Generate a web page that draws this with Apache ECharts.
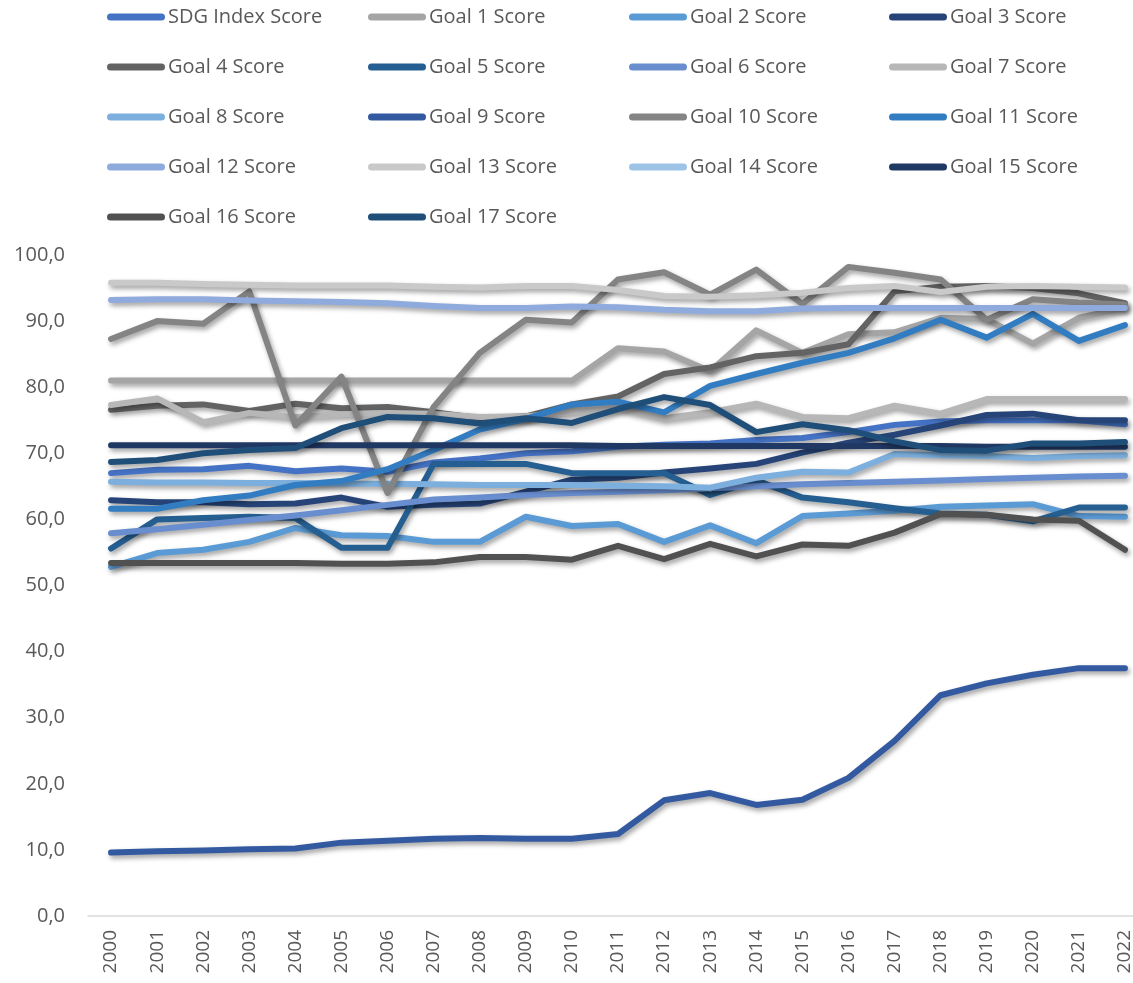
<!DOCTYPE html>
<html>
<head>
<meta charset="utf-8">
<title>SDG Scores 2000–2022</title>
<script src="https://cdn.jsdelivr.net/npm/echarts@6/dist/echarts.min.js"></script>
<style>
  html, body { margin: 0; padding: 0; background: #ffffff; overflow: hidden; }
  /* the drawing surface is a little wider than the page; the plot area runs past the right edge */
  #chart { width: 1148px; height: 983px; }
</style>
</head>
<body>
<div id="chart"></div>
<script>
// Years on the category axis
const years = ['2000','2001','2002','2003','2004','2005','2006','2007','2008','2009','2010',
               '2011','2012','2013','2014','2015','2016','2017','2018','2019','2020','2021','2022'];

// Scores per year (0–100)
const sdgIndex = [67.0,67.5,67.6,68.1,67.3,67.7,67.2,68.6,69.2,70.0,70.3,71.0,71.3,71.5,72.0,72.3,73.2,74.3,74.8,75.0,75.0,75.0,74.4];
const goal1  = [81.0,81.0,81.0,81.0,81.0,81.0,81.0,81.0,81.0,81.0,81.0,85.9,85.4,82.4,88.6,85.2,88.0,88.3,90.5,90.3,86.6,90.5,92.0];
const goal2  = [52.8,54.9,55.4,56.6,58.7,57.6,57.5,56.6,56.6,60.4,59.0,59.3,56.6,59.1,56.4,60.5,60.9,61.3,61.9,62.1,62.3,60.5,60.4];
const goal3  = [62.9,62.6,62.6,62.3,62.4,63.3,61.9,62.2,62.4,64.2,66.0,66.3,67.1,67.7,68.4,70.1,71.6,72.8,74.2,75.8,76.0,75.0,75.0];
const goal4  = [76.6,77.2,77.4,76.4,77.5,76.8,77.0,76.2,75.3,75.6,77.4,78.6,82.0,83.0,84.7,85.2,86.5,94.5,95.2,95.3,95.0,94.2,92.7];
const goal5  = [55.6,60.0,60.2,60.4,60.2,55.7,55.7,68.4,68.4,68.4,67.0,67.0,67.0,63.7,65.9,63.3,62.6,61.7,60.9,60.7,59.7,61.8,61.8];
const goal6  = [57.9,58.5,59.2,59.9,60.6,61.4,62.2,63.0,63.3,63.7,64.0,64.2,64.4,64.7,65.0,65.3,65.5,65.7,65.9,66.1,66.3,66.5,66.6];
const goal7  = [77.3,78.3,74.7,76.1,75.5,75.9,76.1,76.0,75.5,75.6,76.2,76.9,75.3,76.2,77.5,75.5,75.3,77.2,76.0,78.2,78.2,78.2,78.2];
const goal8  = [65.7,65.6,65.6,65.5,65.5,65.4,65.4,65.3,65.2,65.2,65.2,65.1,65.0,64.8,66.3,67.2,67.1,69.9,69.7,69.6,69.3,69.6,69.7];
const goal9  = [9.6,9.8,9.9,10.1,10.2,11.1,11.4,11.7,11.8,11.7,11.7,12.4,17.5,18.6,16.8,17.6,20.9,26.5,33.4,35.2,36.5,37.5,37.5];
const goal10 = [87.3,90.0,89.6,94.5,74.2,81.6,64.0,77.0,85.2,90.2,89.8,96.3,97.4,94.0,97.8,92.6,98.2,97.3,96.3,90.2,93.3,92.8,92.5];
const goal11 = [61.6,61.6,62.9,63.6,65.2,65.8,67.6,70.5,73.6,75.2,77.4,77.8,76.2,80.2,82.0,83.7,85.2,87.4,90.2,87.5,91.1,87.0,89.4];
const goal12 = [93.2,93.3,93.3,93.1,93.0,92.9,92.7,92.3,92.0,92.0,92.2,92.1,91.7,91.5,91.5,91.9,92.0,92.0,92.0,92.0,92.0,92.0,92.0];
const goal13 = [95.8,95.8,95.6,95.5,95.4,95.4,95.4,95.2,95.1,95.3,95.3,94.7,93.8,93.7,93.9,94.3,95.0,95.3,94.4,95.2,95.3,95.2,95.1];
const goal14 = [null,null,null,null,null,null,null,null,null,null,null,null,null,null,null,null,null,null,null,null,null,null,null];
const goal15 = [71.2,71.2,71.2,71.2,71.2,71.2,71.2,71.2,71.2,71.2,71.2,71.1,71.1,71.1,71.1,71.1,71.1,71.1,71.1,71.0,71.0,71.0,71.0];
const goal16 = [53.4,53.4,53.4,53.4,53.4,53.3,53.3,53.5,54.3,54.3,53.9,56.0,54.0,56.3,54.4,56.2,56.0,58.0,60.8,60.7,60.0,59.8,55.4];
const goal17 = [68.7,69.0,70.0,70.5,70.8,73.8,75.5,75.3,74.5,75.3,74.6,76.7,78.5,77.3,73.2,74.4,73.5,71.8,70.5,70.4,71.5,71.5,71.7];

const seriesNames = ['SDG Index Score','Goal 1 Score','Goal 2 Score','Goal 3 Score','Goal 4 Score','Goal 5 Score',
  'Goal 6 Score','Goal 7 Score','Goal 8 Score','Goal 9 Score','Goal 10 Score','Goal 11 Score','Goal 12 Score',
  'Goal 13 Score','Goal 14 Score','Goal 15 Score','Goal 16 Score','Goal 17 Score'];
const seriesData = [sdgIndex, goal1, goal2, goal3, goal4, goal5, goal6, goal7, goal8, goal9,
  goal10, goal11, goal12, goal13, goal14, goal15, goal16, goal17];
const seriesColors = ['#4472C4','#A5A5A5','#5B9BD5','#264478','#636363','#255E91','#698ED0','#B7B7B7',
  '#7CAFDD','#335AA1','#848484','#327DC2','#8FAADC','#C9C9C9','#9DC3E6','#203864','#515151','#1F4E79'];

const FONT = '"Open Sans", "DejaVu Sans", sans-serif';
const TEXT_COLOR = '#595959';

// Legend laid out as a 4-column grid, one legend component per entry
const legendColX = [107, 368, 629, 889];
const legendRowY = [17, 67, 117, 167, 217];
const pill = 'path://M3.5,0H54.5A3.5,3.5,0,0,1,54.5,7H3.5A3.5,3.5,0,0,1,3.5,0Z';
const legends = seriesNames.map((name, i) => ({
  show: true,
  data: [name],
  left: legendColX[i % 4],
  top: legendRowY[Math.floor(i / 4)] - 12,
  padding: 0,
  icon: pill,
  itemWidth: 58,
  itemHeight: 7,
  selectedMode: false,
  textStyle: {
    fontFamily: FONT,
    fontSize: 20,
    color: TEXT_COLOR,
    lineHeight: 24,
    padding: [0, 0, 0, -2]
  }
}));

const series = seriesNames.map((name, i) => ({
  name: name,
  type: 'line',
  data: seriesData[i],
  symbol: 'none',
  connectNulls: false,
  itemStyle: { color: seriesColors[i] },
  lineStyle: {
    color: seriesColors[i],
    width: 6,
    cap: 'round',
    join: 'round',
    shadowColor: 'rgba(0,0,0,0.38)',
    shadowBlur: 5,
    shadowOffsetX: 2,
    shadowOffsetY: 3
  },
  emphasis: { disabled: true },
  animation: false
}));

const chart = echarts.init(document.getElementById('chart'), null, { renderer: 'canvas' });
chart.setOption({
  backgroundColor: '#ffffff',
  animation: false,
  legend: legends,
  grid: { left: 88, top: 255, right: 0, bottom: 67, containLabel: false },
  xAxis: {
    type: 'category',
    data: years,
    boundaryGap: true,
    axisLine: { show: true, lineStyle: { color: '#D9D9D9', width: 1.5 } },
    axisTick: { show: false },
    axisLabel: {
      interval: 0,
      rotate: 90,
      margin: 14,
      fontFamily: FONT,
      fontSize: 19,
      color: TEXT_COLOR
    },
    splitLine: { show: false }
  },
  yAxis: {
    type: 'value',
    min: 0,
    max: 100,
    interval: 10,
    axisLine: { show: false },
    axisTick: { show: false },
    splitLine: { show: false },
    axisLabel: {
      margin: 23,
      fontFamily: FONT,
      fontSize: 20,
      color: TEXT_COLOR,
      formatter: v => v.toFixed(1).replace('.', ',')
    }
  },
  series: series
});
</script>
</body>
</html>
